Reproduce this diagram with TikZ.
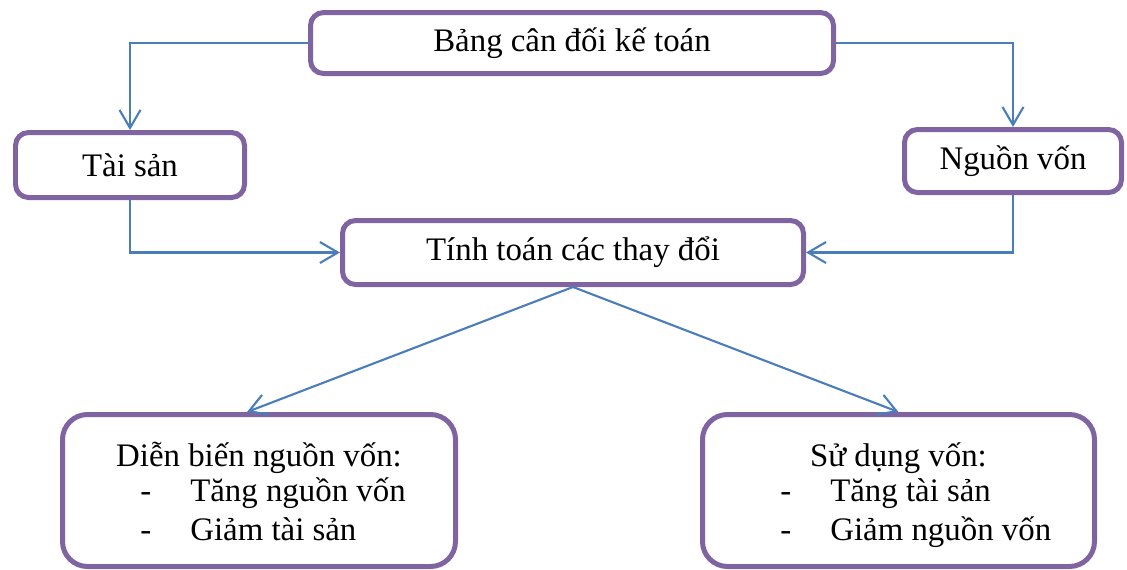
\documentclass[tikz,border=0pt]{standalone}
\usepackage{fontspec}
\setmainfont{Liberation Serif}
\usetikzlibrary{arrows.meta, calc}
\definecolor{boxpurple}{RGB}{128,100,162}
\definecolor{lineblue}{RGB}{74,126,187}

\begin{document}
\begin{tikzpicture}[x=0.02cm, y=-0.02cm,
    font=\fontsize{18.7}{22}\selectfont,
    box/.style={draw=boxpurple, line width=0.1cm, rounded corners=0.26cm, fill=white, inner sep=0pt},
    bigbox/.style={box, rounded corners=0.5cm, minimum height=152*0.02cm},
    conn/.style={draw=lineblue, line width=1.2pt, -{Straight Barb[length=0.36cm, width=0.42cm, line width=1.2pt]}},
    item/.style={anchor=base west, inner sep=0pt}]
    \useasboundingbox (0,0) rectangle (1127,569);
    \node[box, minimum width=523*0.02cm, minimum height=61*0.02cm] (bangcd) at (572,43) {Bảng cân đối kế toán};
    \node[box, minimum width=229*0.02cm, minimum height=65*0.02cm] (taisan) at (130,165) {Tài sản};
    \node[box, minimum width=217*0.02cm, minimum height=63*0.02cm] (nguonvon) at (1013,161) {Nguồn vốn};
    \node[box, minimum width=461*0.02cm, minimum height=64*0.02cm] (tinhtoan) at (573,252.5) {Tính toán các thay đổi};
    \node[bigbox, minimum width=393*0.02cm] (dienbien) at (259,490.5) {};
    \node[bigbox, minimum width=392*0.02cm] (sudung) at (898.5,490.5) {};
    % text of the two lower boxes
    \node[anchor=base, inner sep=0pt] (dienhead) at ($(dienbien.north)+(0,54)$) {Diễn biến nguồn vốn:};
    \node[item] (dien1) at ($(dienbien.north west)+(80,89)$) {\makebox[1cm][l]{-}Tăng nguồn vốn};
    \node[item] (dien2) at ($(dienbien.north west)+(80,128)$) {\makebox[1cm][l]{-}Giảm tài sản};
    \node[anchor=base, inner sep=0pt] (suhead) at ($(sudung.north)+(0,54)$) {Sử dụng vốn:};
    \node[item] (su1) at ($(sudung.north west)+(80,89)$) {\makebox[1cm][l]{-}Tăng tài sản};
    \node[item] (su2) at ($(sudung.north west)+(80,128)$) {\makebox[1cm][l]{-}Giảm nguồn vốn};
    % connectors
    \draw[conn] (bangcd.west) -| (taisan.north);
    \draw[conn] (bangcd.east) -| (nguonvon.north);
    \draw[conn] (taisan.south) |- (tinhtoan.west);
    \draw[conn] (nguonvon.south) |- (tinhtoan.east);
    \draw[conn] (tinhtoan.south) -- ($(dienbien.north)+(-12,0)$);
    \draw[conn] (tinhtoan.south) -- (sudung.north);
\end{tikzpicture}
\end{document}
